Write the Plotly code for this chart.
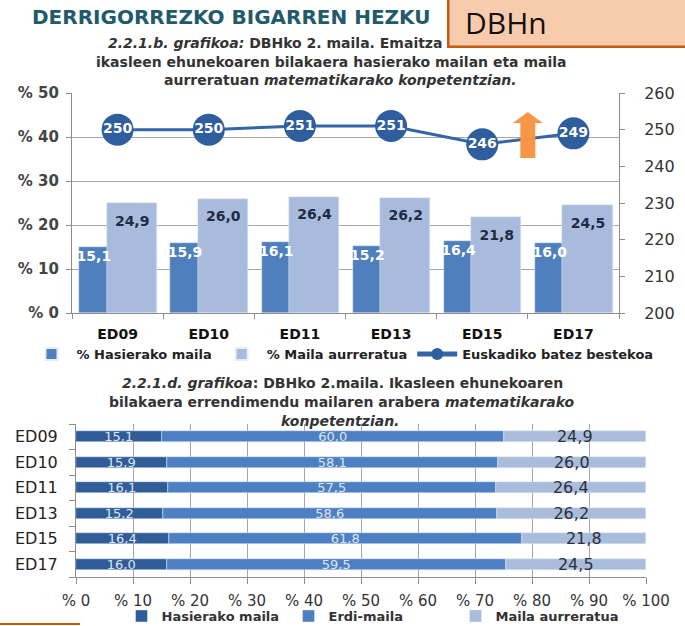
import plotly.graph_objects as go

# ---------------- data ----------------
editions = ["ED09", "ED10", "ED11", "ED13", "ED15", "ED17"]
hasierako = [15.1, 15.9, 16.1, 15.2, 16.4, 16.0]
aurreratua = [24.9, 26.0, 26.4, 26.2, 21.8, 24.5]
batez_bestekoa = [250, 250, 251, 251, 246, 249]
erdi = [60.0, 58.1, 57.5, 58.6, 61.8, 59.5]

pct_ticks = [0, 10, 20, 30, 40, 50]
score_ticks = [200, 210, 220, 230, 240, 250, 260]

def fmt(v):
    return f"{v:.1f}".replace(".", ",")

W, H = 685, 626
def px(x): return x / W
def py(y): return 1 - y / H

C_DARK = "#4f7fbc"
C_LIGHT = "#a9bbdc"
C_LINE = "#3565a6"
C_MARK = "#2f5e9e"
C_H_DARK = "#305c98"
C_H_MID = "#4c80c2"
C_H_LIGHT = "#aabcdc"
GRID = "#a6a6a6"
AX = "#8c8c8c"
FONT = "DejaVu Sans"

idx = list(range(len(editions)))

fig = go.Figure()

# ---------------- top chart ----------------
fig.add_trace(go.Bar(
    x=idx, y=hasierako, width=0.31, offset=-0.42, marker_color=C_DARK,
    name="% Hasierako maila", legend="legend", xaxis="x", yaxis="y",
    hoverinfo="skip"))
fig.add_trace(go.Bar(
    x=idx, y=aurreratua, width=0.55, offset=-0.12, marker_color=C_LIGHT,
    name="% Maila aurreratua", legend="legend", xaxis="x", yaxis="y",
    hoverinfo="skip"))
# bar labels
fig.add_trace(go.Scatter(
    x=[i - 0.26 for i in idx], y=[v - 2.4 for v in hasierako],
    mode="text", text=[fmt(v) for v in hasierako],
    textfont=dict(family=FONT, size=14, color="white", weight="bold"),
    showlegend=False, xaxis="x", yaxis="y", hoverinfo="skip"))
fig.add_trace(go.Scatter(
    x=[i + 0.16 for i in idx], y=[v - 4.3 for v in aurreratua],
    mode="text", text=[fmt(v) for v in aurreratua],
    textfont=dict(family=FONT, size=14, color="#1f2a44", weight="bold"),
    showlegend=False, xaxis="x", yaxis="y", hoverinfo="skip"))
# average line
fig.add_trace(go.Scatter(
    x=idx, y=batez_bestekoa, mode="lines+markers",
    line=dict(color=C_LINE, width=3),
    marker=dict(size=32, color=C_MARK, line=dict(width=0)),
    name="Euskadiko batez bestekoa", legend="legend",
    xaxis="x", yaxis="y2", hoverinfo="skip"))
fig.add_trace(go.Scatter(
    x=idx, y=batez_bestekoa, mode="text",
    text=[str(v) for v in batez_bestekoa],
    textfont=dict(family=FONT, size=14, color="white", weight="bold"),
    showlegend=False, xaxis="x", yaxis="y2", hoverinfo="skip"))

# ---------------- bottom chart ----------------
base_erdi = hasierako
base_aurr = [a + b for a, b in zip(hasierako, erdi)]
seg_font = dict(family=FONT, size=13, color="#dde5f0")
fig.add_trace(go.Bar(
    y=idx, x=hasierako, orientation="h", width=0.42, marker_color=C_H_DARK,
    name="Hasierako maila", legend="legend2", xaxis="x2", yaxis="y3",
    text=[fmt(v) for v in hasierako], textposition="inside",
    insidetextanchor="middle", constraintext="none", textangle=0,
    textfont=seg_font, hoverinfo="skip"))
fig.add_trace(go.Bar(
    y=idx, x=erdi, base=base_erdi, orientation="h", width=0.42,
    marker_color=C_H_MID, name="Erdi-maila", legend="legend2",
    xaxis="x2", yaxis="y3",
    text=[fmt(v) for v in erdi], textposition="inside",
    insidetextanchor="middle", constraintext="none", textangle=0,
    textfont=seg_font, hoverinfo="skip"))
fig.add_trace(go.Bar(
    y=idx, x=aurreratua, base=base_aurr, orientation="h", width=0.42,
    marker_color=C_H_LIGHT, name="Maila aurreratua", legend="legend2",
    xaxis="x2", yaxis="y3",
    text=[fmt(v) for v in aurreratua], textposition="inside",
    insidetextanchor="middle", constraintext="none", textangle=0,
    textfont=dict(family=FONT, size=16, color="#2a2f3a"),
    hoverinfo="skip"))

fig.update_layout(
    width=W, height=H, margin=dict(l=0, r=0, t=0, b=0, autoexpand=False),
    paper_bgcolor="white", plot_bgcolor="white",
    barmode="overlay", bargap=0,
    font=dict(family=FONT, color="#333333"),
    xaxis=dict(domain=[px(72), px(619)], range=[-0.5, 5.5], automargin=False,
               tickmode="array", tickvals=idx, ticktext=editions,
               ticks="", showline=True, linecolor=AX, linewidth=1,
               showgrid=False, zeroline=False, ticklabelstandoff=8,
               tickfont=dict(family=FONT, size=14, color="#111111", weight="bold"),
               minor=dict(tickvals=[i - 0.5 for i in range(7)], ticks="outside",
                          ticklen=5, tickcolor=AX, showgrid=False),
               anchor="y"),
    yaxis=dict(domain=[py(313), py(93)], range=[0, 50], automargin=False,
               tickmode="array", tickvals=pct_ticks,
               ticktext=[f"% {v}" for v in pct_ticks],
               showline=True, linecolor=AX, ticks="outside", ticklen=5,
               tickcolor=AX, showgrid=True, gridcolor=GRID, gridwidth=1,
               zeroline=False, anchor="x", ticklabelstandoff=4,
               tickfont=dict(family=FONT, size=15, color="#444444", weight="bold")),
    yaxis2=dict(overlaying="y", side="right", range=[200, 260], automargin=False,
                tickmode="array", tickvals=score_ticks,
                showline=True, linecolor=AX, ticks="outside", ticklen=5,
                tickcolor=AX, showgrid=False, zeroline=False,
                tickfont=dict(family=FONT, size=16, color="#333333"),
                anchor="x", ticklabelstandoff=16),
    xaxis2=dict(domain=[px(76), px(646)], range=[0, 100], automargin=False,
                tickmode="array", tickvals=list(range(0, 101, 10)),
                ticktext=[f"% {v}" for v in range(0, 101, 10)],
                showline=True, linecolor=AX, ticks="outside", ticklen=6,
                tickcolor=AX, showgrid=True, gridcolor=GRID, zeroline=False,
                tickfont=dict(family=FONT, size=15, color="#333333"),
                anchor="y3", ticklabelstandoff=4),
    yaxis3=dict(domain=[py(577), py(424)], range=[5.5, -0.5], automargin=False,
                tickmode="array", tickvals=idx, ticktext=editions,
                ticks="", showline=True, linecolor=AX, showgrid=False,
                zeroline=False, ticklabelstandoff=14,
                tickfont=dict(family=FONT, size=16, color="#222222"),
                minor=dict(tickvals=[i - 0.5 for i in range(7)], ticks="outside",
                           ticklen=6, tickcolor=AX, showgrid=False),
                anchor="x2"),
    legend=dict(orientation="h", x=0.5, xanchor="center", y=py(354),
                yanchor="middle", font=dict(family=FONT, size=13,
                color="#222222", weight="bold"), itemsizing="constant",
                bgcolor="rgba(0,0,0,0)", tracegroupgap=0, itemwidth=40,
                borderwidth=0),
    legend2=dict(orientation="h", x=px(372), xanchor="center", y=py(616),
                 yanchor="middle", font=dict(family=FONT, size=13,
                 color="#333333", weight="bold"),
                 bgcolor="rgba(0,0,0,0)", itemwidth=30, entrywidth=122,
                 entrywidthmode="pixels"),
    showlegend=True,
)

# orange arrow (decoration between ED15 and ED17)
ax_c = 4.5
fig.add_shape(type="path", xref="x", yref="y2",
              path=(f"M {ax_c-0.165} 251.8 L {ax_c} 254.8 L {ax_c+0.165} 251.8 "
                    f"L {ax_c+0.082} 251.8 L {ax_c+0.082} 242.3 L {ax_c-0.082} 242.3 "
                    f"L {ax_c-0.082} 251.8 Z"),
              fillcolor="#f79646", line=dict(width=0), layer="above")
# small orange rule at bottom-left
fig.add_shape(type="line", xref="paper", yref="paper",
              x0=0, x1=px(80), y0=py(624), y1=py(624),
              line=dict(color="#c55a11", width=2))

sub = dict(family=FONT, size=14, color="#333333", weight="bold")
ann = [
    dict(text="DERRIGORREZKO BIGARREN HEZKU", x=px(30), y=py(17),
         xanchor="left", yanchor="middle",
         font=dict(family=FONT, size=20, color="#215a6a", weight="bold")),
    dict(text="<i>2.2.1.b. grafikoa:</i> DBHko 2. maila. Emaitza orokorren eta",
         x=px(332), y=py(43), font=sub),
    dict(text="ikasleen ehunekoaren bilakaera hasierako mailan eta maila",
         x=px(331), y=py(62), font=sub),
    dict(text="aurreratuan <i>matematikarako konpetentzian.</i>",
         x=px(340), y=py(80), font=sub),
    dict(text="<i>2.2.1.d. grafikoa</i>: DBHko 2.maila. Ikasleen ehunekoaren",
         x=px(342), y=py(383), font=sub),
    dict(text="bilakaera errendimendu mailaren arabera <i>matematikarako</i>",
         x=px(342), y=py(402), font=sub),
    dict(text="<i>konpetentzian.</i>", x=px(340), y=py(421), font=sub),
    dict(text="&nbsp;&nbsp;DBHn", x=px(447), y=py(-3), xanchor="left",
         yanchor="top", width=245, height=46, align="left", valign="middle",
         bgcolor="#f8cbad", bordercolor="#c55a11", borderwidth=2.5,
         borderpad=0, font=dict(family="Open Sans", size=30, color="#111111")),
]
for a in ann:
    a.setdefault("xref", "paper")
    a.setdefault("yref", "paper")
    a.setdefault("showarrow", False)
    a.setdefault("xanchor", "center")
    a.setdefault("yanchor", "middle")
    fig.add_annotation(**a)

fig.write_html("out.html", config={"displayModeBar": False},
               post_script="document.body.style.margin='0px';")
